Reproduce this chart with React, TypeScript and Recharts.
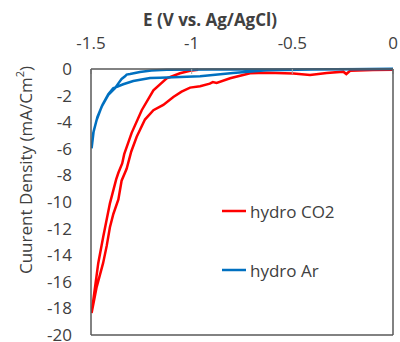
import { Legend, Line, LineChart, XAxis, YAxis } from 'recharts';

// hydro CO2 loop, from 0 V to -1.5 V and back
const co2Potential = [
  0, -0.1, -0.213, -0.232, -0.247, -0.329, -0.412, -0.495, -0.627, -0.71,
  -0.809, -0.876, -0.895, -0.91, -0.958, -1.008, -1.05, -1.091, -1.141,
  -1.19, -1.232, -1.273, -1.3, -1.323, -1.348, -1.364, -1.389, -1.406,
  -1.422, -1.44, -1.472, -1.497, -1.464, -1.439, -1.406, -1.375, -1.364,
  -1.345, -1.335, -1.298, -1.248, -1.19, -1.124, -1.058, -1.008, -0.968,
];
const co2Current = [
  -0.05, -0.08, -0.13, -0.38, -0.2, -0.3, -0.45, -0.33, -0.28, -0.32, -0.7,
  -1.05, -0.98, -1.1, -1.3, -1.4, -1.7, -2.1, -2.7, -3.1, -3.8, -5.1, -6.2,
  -7.5, -8.4, -9.8, -10.9, -11.9, -13.3, -14.6, -16.4, -18.35, -14.6, -12.6,
  -10.1, -8.3, -7.8, -7.1, -6.4, -4.8, -3.1, -1.6, -0.7, -0.32, -0.13, -0.05,
];

// hydro Ar loop
const arPotential = [
  0, -0.3, -0.6, -0.9, -1.124, -1.2, -1.257, -1.306, -1.323, -1.331, -1.348,
  -1.365, -1.381, -1.414, -1.447, -1.472, -1.489, -1.497, -1.487, -1.468,
  -1.443, -1.414, -1.39, -1.34, -1.29, -1.207, -1.157, -0.958, -0.795,
  -0.627, -0.4, 0,
];
const arCurrent = [
  0, -0.02, -0.03, -0.04, -0.05, -0.12, -0.22, -0.38, -0.42, -0.55, -0.75,
  -1.1, -1.45, -1.95, -2.83, -3.83, -4.83, -5.96, -4.7, -3.6, -2.7, -1.9,
  -1.45, -1.15, -0.9, -0.68, -0.66, -0.55, -0.3, -0.1, -0.04, 0,
];

const xTicks = [-1.5, -1, -0.5, 0];
const yTicks = [0, -2, -4, -6, -8, -10, -12, -14, -16, -18, -20];

const seriesNames = ['hydro CO2', 'hydro Ar'];
const seriesColors = ['#ff0000', '#0070c0'];

const co2Data = co2Potential.map((x, i) => ({ x, y: co2Current[i] }));
const arData = arPotential.map((x, i) => ({ x, y: arCurrent[i] }));

const FONT = '"Open Sans", sans-serif';
const TEXT = '#404040';
const AXIS = '#595959';
const axisLine = { stroke: AXIS, strokeWidth: 1.5 };
const tickLine = { stroke: '#a6a6a6', strokeWidth: 1 };

const renderTitle = (props: any) => {
  const { viewBox } = props;
  return (
    <text
      x={viewBox.x + viewBox.width / 2 - 32}
      y={26}
      textAnchor='middle'
      fontFamily={FONT}
      fontSize={17}
      fontWeight='bold'
      fill={TEXT}
    >
      E (V vs. Ag/AgCl)
    </text>
  );
};

const renderYLabel = (props: any) => {
  const { viewBox } = props;
  const cx = 25;
  const cy = viewBox.y + viewBox.height / 2 - 32;
  return (
    <text
      x={cx}
      y={cy}
      transform={`rotate(-90 ${cx} ${cy})`}
      textAnchor='middle'
      dominantBaseline='central'
      fontFamily={FONT}
      fontSize={17}
      fill={TEXT}
    >
      Cuurent Density (mA/Cm
      <tspan dy={-6} fontSize={11}>
        2
      </tspan>
      <tspan dy={6}>)</tspan>
    </text>
  );
};

const renderLegend = () => (
  <div style={{ fontFamily: FONT, fontSize: 17, color: TEXT }}>
    {seriesNames.map((name, i) => (
      <div
        key={name}
        style={{ display: 'flex', alignItems: 'center', height: 24, marginBottom: 35 }}
      >
        <svg width={26} height={6} style={{ marginRight: 2 }}>
          <line x1={0} y1={3} x2={24} y2={3} stroke={seriesColors[i]} strokeWidth={2.5} />
        </svg>
        <span>{name}</span>
      </div>
    ))}
  </div>
);

export default function App() {
  return (
    <div style={{ position: 'absolute', left: 0, top: 0, background: '#fff' }}>
      <LineChart
        width={400}
        height={342}
        margin={{ top: 0, right: 6, bottom: 6, left: 31 }}
      >
        <XAxis
          dataKey='x'
          type='number'
          orientation='top'
          domain={[-1.5, 0]}
          ticks={xTicks}
          height={69}
          tickSize={-5}
          tickMargin={25}
          axisLine={axisLine}
          tickLine={tickLine}
          tick={{ fill: TEXT, fontFamily: FONT, fontSize: 17 }}
          allowDataOverflow
          label={{ content: renderTitle }}
        />
        <XAxis
          xAxisId='bottom'
          dataKey='x'
          type='number'
          orientation='bottom'
          domain={[-1.5, 0]}
          ticks={xTicks}
          height={1}
          tickSize={0}
          tickFormatter={() => ''}
          axisLine={axisLine}
          tickLine={false}
        />
        <YAxis
          type='number'
          domain={[-20, 0]}
          ticks={yTicks}
          width={60}
          tickLine={false}
          tickSize={0}
          tickMargin={19}
          axisLine={axisLine}
          tick={{ fill: TEXT, fontFamily: FONT, fontSize: 17 }}
          interval={0}
          label={{ content: renderYLabel }}
        />
        <YAxis
          yAxisId='right'
          type='number'
          orientation='right'
          domain={[-20, 0]}
          ticks={yTicks}
          width={1}
          tickSize={-5}
          tickFormatter={() => ''}
          axisLine={axisLine}
          tickLine={tickLine}
          interval={0}
        />
        <Legend
          layout='horizontal'
          align='center'
          verticalAlign='middle'
          content={renderLegend}
          wrapperStyle={{ left: 222, top: 199, width: 140 }}
        />
        <Line
          data={co2Data}
          dataKey='y'
          name={seriesNames[0]}
          stroke={seriesColors[0]}
          strokeWidth={2.5}
          dot={false}
          isAnimationActive={false}
        />
        <Line
          data={arData}
          dataKey='y'
          name={seriesNames[1]}
          stroke={seriesColors[1]}
          strokeWidth={2.5}
          dot={false}
          isAnimationActive={false}
        />
      </LineChart>
    </div>
  );
}
